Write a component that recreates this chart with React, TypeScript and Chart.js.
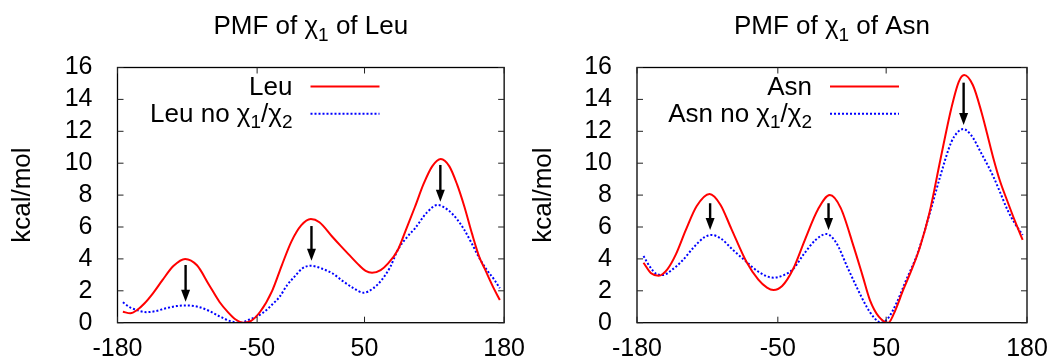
import React, { useEffect, useRef } from "react";
import { Chart, registerables } from "chart.js";

Chart.register(...registerables);

// ---------- data ----------
const xTickValues = [-180, -50, 50, 180];
const yTickValues = [0, 2, 4, 6, 8, 10, 12, 14, 16];

// Leu (red, solid)
const leuAngles = [-175, -168, -162, -155, -147, -138, -128, -117, -106, -95, -85, -77, -70, -63, -56, -47, -36, -27, -18, -9, 0, 8, 20, 28, 35, 45, 51, 57, 65, 72, 81, 89, 97, 105, 113, 121, 129, 136, 143, 150, 157, 162, 170, 176];
const leuPmf = [0.69, 0.59, 0.78, 1.2, 1.84, 2.68, 3.55, 4.0, 3.6, 2.4, 1.3, 0.65, 0.2, 0.0, 0.1, 0.7, 2.0, 3.6, 5.1, 6.1, 6.5, 6.3, 5.39, 4.8, 4.3, 3.6, 3.25, 3.13, 3.3, 3.72, 4.56, 5.9, 7.27, 8.7, 9.8, 10.26, 9.8, 8.7, 7.27, 5.6, 4.1, 3.37, 2.2, 1.42];

// Leu no chi1/chi2 (blue, dotted)
const leuNoAngles = [-175, -168, -160, -153, -145, -135, -125, -115, -105, -95, -85, -75, -66, -57, -45, -35, -29, -22, -15, -8, 0, 10, 20, 30, 40, 49, 58, 66, 74, 81, 90, 97, 108, 118, 128, 136, 143, 150, 157, 164, 171, 176];
const leuNoPmf = [1.28, 0.95, 0.75, 0.66, 0.72, 0.9, 1.04, 1.08, 1.0, 0.75, 0.4, 0.1, 0.0, 0.2, 0.6, 1.2, 1.63, 2.36, 2.9, 3.4, 3.57, 3.4, 3.1, 2.6, 2.15, 1.88, 2.15, 2.68, 3.5, 4.56, 5.4, 5.92, 6.9, 7.38, 7.05, 6.5, 5.81, 4.95, 4.04, 3.3, 2.68, 2.16];

// Asn (red, solid)
const asnAngles = [-174, -167, -160, -152, -144, -135, -125, -113, -103, -93, -79, -68, -60, -54, -46, -36, -25, -13, -2, 8, 20, 28, 35, 43, 52, 57, 66, 74, 81, 90, 100, 110, 117, 122, 130, 138, 143, 149, 155, 162, 169, 176];
const asnPmf = [3.76, 3.1, 2.95, 3.35, 4.3, 5.8, 7.3, 8.07, 7.4, 5.9, 3.82, 2.7, 2.2, 2.05, 2.3, 3.35, 5.2, 7.1, 8.0, 7.2, 4.77, 3.0, 1.42, 0.4, 0.0, 0.55, 2.1, 3.4, 4.7, 6.9, 10.2, 13.4, 15.1, 15.53, 14.9, 13.2, 11.9, 10.3, 8.9, 7.6, 6.35, 5.19];

// Asn no chi1/chi2 (blue, dotted)
const asnNoAngles = [-174, -168, -162, -156, -148, -138, -128, -118, -111, -102, -92, -79, -68, -54, -44, -36, -26, -15, -5, 4, 14, 23, 32, 39, 45, 52, 60, 68, 79, 90, 100, 110, 116, 121, 128, 138, 149, 155, 162, 169, 176];
const asnNoPmf = [4.18, 3.5, 3.05, 2.99, 3.3, 3.9, 4.7, 5.35, 5.5, 5.25, 4.6, 3.82, 3.2, 2.82, 3.0, 3.35, 4.3, 5.2, 5.56, 5.0, 3.51, 2.2, 1.0, 0.3, 0.0, 0.3, 1.3, 2.6, 4.35, 6.8, 9.2, 11.3, 11.95, 12.14, 11.8, 10.6, 9.15, 8.2, 7.07, 6.2, 5.5];

// Arrows: x position, start value, tip value
const leuArrowX = [-116.6, 0.6, 120.6];
const leuArrowFrom = [3.62, 6.06, 9.89];
const leuArrowTo = [1.32, 3.89, 7.59];
const asnArrowX = [-112.5, -3.2, 121.5];
const asnArrowFrom = [7.49, 7.49, 15.05];
const asnArrowTo = [5.81, 5.81, 12.4];

// ---------- styling ----------
const FONT = '"Liberation Sans", Arial, Helvetica, sans-serif';
const RED = "#ff0000";
const BLUE = "#0000ff";

type Seg = { t: string; sub?: boolean };

function segFont(s: Seg, size: number) {
  return `${s.sub ? Math.round(size * 0.72) : size}px ${FONT}`;
}

function drawRich(ctx: CanvasRenderingContext2D, segs: Seg[], x: number, y: number, align: string, size: number) {
  let w = 0;
  for (const s of segs) {
    ctx.font = segFont(s, size);
    w += ctx.measureText(s.t).width;
  }
  let cx = align === "right" ? x - w : align === "center" ? x - w / 2 : x;
  ctx.textAlign = "left";
  ctx.textBaseline = "alphabetic";
  for (const s of segs) {
    ctx.font = segFont(s, size);
    ctx.fillText(s.t, cx, s.sub ? y + size * 0.26 : y);
    cx += ctx.measureText(s.t).width;
  }
}

const overlayPlugin = {
  id: "overlay",
  afterDatasetsDraw(chart: any, _args: any, opts: any) {
    const { ctx, chartArea: a } = chart;
    const xs = chart.scales.x;
    const ys = chart.scales.y;
    ctx.save();

    // arrows
    ctx.strokeStyle = "#000";
    ctx.fillStyle = "#000";
    (opts.arrowX as number[]).forEach((ax, i) => {
      const px = xs.getPixelForValue(ax);
      const y0 = ys.getPixelForValue(opts.arrowFrom[i]);
      const y1 = ys.getPixelForValue(opts.arrowTo[i]);
      const head = 12;
      const hw = 4.5;
      ctx.lineWidth = 2.4;
      ctx.beginPath();
      ctx.moveTo(px, y0);
      ctx.lineTo(px, y1 - head + 2);
      ctx.stroke();
      ctx.beginPath();
      ctx.moveTo(px - hw, y1 - head);
      ctx.lineTo(px + hw, y1 - head);
      ctx.lineTo(px, y1);
      ctx.closePath();
      ctx.fill();
    });

    // border
    ctx.strokeStyle = "#000";
    ctx.lineWidth = 1.3;
    ctx.setLineDash([]);
    ctx.strokeRect(a.left, a.top, a.right - a.left, a.bottom - a.top);

    // inward ticks (mirrored)
    ctx.lineWidth = 1;
    ctx.strokeStyle = "#222";
    const tl = 6;
    for (const v of yTickValues) {
      const py = ys.getPixelForValue(v);
      ctx.beginPath();
      ctx.moveTo(a.left, py);
      ctx.lineTo(a.left + tl, py);
      ctx.moveTo(a.right, py);
      ctx.lineTo(a.right - tl, py);
      ctx.stroke();
    }
    for (const v of xTickValues) {
      const px = xs.getPixelForValue(v);
      ctx.beginPath();
      ctx.moveTo(px, a.bottom);
      ctx.lineTo(px, a.bottom - tl);
      ctx.moveTo(px, a.top);
      ctx.lineTo(px, a.top + tl);
      ctx.stroke();
    }

    // legend (gnuplot style: right-aligned text, sample line to the right)
    ctx.fillStyle = "#000";
    chart.data.datasets.forEach((ds: any, i: number) => {
      const textY = a.top + 27.5 + i * 26.5;
      const lineY = a.top + 19 + i * 27.3;
      drawRich(ctx, opts.legendLabels[i], a.left + 175, textY, "right", 26);
      ctx.strokeStyle = ds.borderColor;
      ctx.lineWidth = ds.borderWidth;
      ctx.setLineDash(ds.borderDash || []);
      ctx.beginPath();
      ctx.moveTo(a.left + 193, lineY);
      ctx.lineTo(a.left + 262, lineY);
      ctx.stroke();
      ctx.setLineDash([]);
    });

    // title
    ctx.fillStyle = "#000";
    drawRich(ctx, opts.title, (a.left + a.right) / 2, 34, "center", 26);

    ctx.restore();
  },
};

type PanelProps = {
  title: Seg[];
  names: Seg[][];
  solidX: number[];
  solidY: number[];
  dotX: number[];
  dotY: number[];
  arrowX: number[];
  arrowFrom: number[];
  arrowTo: number[];
  axisWidth: number;
  rightPad: number;
  yTitlePad: number;
};

function PmfPanel(p: PanelProps) {
  const ref = useRef<HTMLCanvasElement | null>(null);
  useEffect(() => {
    if (!ref.current) return;
    const chart = new Chart(ref.current, {
      type: "line",
      data: {
        datasets: [
          {
            label: "solid",
            data: p.solidX.map((x, i) => ({ x, y: p.solidY[i] })),
            borderColor: RED,
            borderWidth: 2,
            pointRadius: 0,
            cubicInterpolationMode: "monotone",
            fill: false,
          },
          {
            label: "dotted",
            data: p.dotX.map((x, i) => ({ x, y: p.dotY[i] })),
            borderColor: BLUE,
            borderWidth: 2,
            borderDash: [2, 2],
            pointRadius: 0,
            cubicInterpolationMode: "monotone",
            fill: false,
          },
        ],
      },
      options: {
        responsive: false,
        animation: false,
        devicePixelRatio: 1,
        layout: { padding: { left: 0, right: p.rightPad, top: 67.5, bottom: 0 } },
        plugins: {
          legend: { display: false },
          title: { display: false },
          tooltip: { enabled: false },
          overlay: {
            title: p.title,
            legendLabels: p.names,
            arrowX: p.arrowX,
            arrowFrom: p.arrowFrom,
            arrowTo: p.arrowTo,
          },
        } as any,
        scales: {
          x: {
            type: "linear",
            min: -180,
            max: 180,
            afterBuildTicks: (s: any) => {
              s.ticks = xTickValues.map((v) => ({ value: v }));
            },
            afterFit: (s: any) => {
              s.height = 40.3;
            },
            grid: { display: false },
            border: { display: false },
            ticks: {
              color: "#000",
              font: { family: FONT, size: 25 },
              padding: 3,
              maxRotation: 0,
              autoSkip: false,
            },
          },
          y: {
            type: "linear",
            min: 0,
            max: 16,
            afterBuildTicks: (s: any) => {
              s.ticks = yTickValues.map((v) => ({ value: v }));
            },
            afterFit: (s: any) => {
              s.width = p.axisWidth;
            },
            grid: { display: false },
            border: { display: false },
            ticks: {
              color: "#000",
              font: { family: FONT, size: 25 },
              padding: 17,
              autoSkip: false,
            },
            title: {
              display: true,
              text: "kcal/mol",
              color: "#000",
              font: { family: FONT, size: 26 },
              padding: { top: p.yTitlePad, bottom: 0 },
            },
          },
        },
      } as any,
      plugins: [overlayPlugin as any],
    });
    return () => chart.destroy();
  }, []);
  return <canvas ref={ref} width={528} height={363} style={{ display: "block", width: 528, height: 363 }} />;
}

export default function App() {
  return (
    <div style={{ position: "absolute", left: 0, top: 0, width: 1056, height: 363, display: "flex", background: "#fff" }}>
      <PmfPanel
        title={[{ t: "PMF of " }, { t: "χ" }, { t: "1", sub: true }, { t: " of Leu" }]}
        names={[[{ t: "Leu" }], [{ t: "Leu no " }, { t: "χ" }, { t: "1", sub: true }, { t: "/" }, { t: "χ" }, { t: "2", sub: true }]]}
        solidX={leuAngles}
        solidY={leuPmf}
        dotX={leuNoAngles}
        dotY={leuNoPmf}
        arrowX={leuArrowX}
        arrowFrom={leuArrowFrom}
        arrowTo={leuArrowTo}
        axisWidth={117.5}
        rightPad={21.5}
        yTitlePad={7.7}
      />
      <PmfPanel
        title={[{ t: "PMF of " }, { t: "χ" }, { t: "1", sub: true }, { t: " of Asn" }]}
        names={[[{ t: "Asn" }], [{ t: "Asn no " }, { t: "χ" }, { t: "1", sub: true }, { t: "/" }, { t: "χ" }, { t: "2", sub: true }]]}
        solidX={asnAngles}
        solidY={asnPmf}
        dotX={asnNoAngles}
        dotY={asnNoPmf}
        arrowX={asnArrowX}
        arrowFrom={asnArrowFrom}
        arrowTo={asnArrowTo}
        axisWidth={109}
        rightPad={29}
        yTitlePad={0}
      />
    </div>
  );
}
